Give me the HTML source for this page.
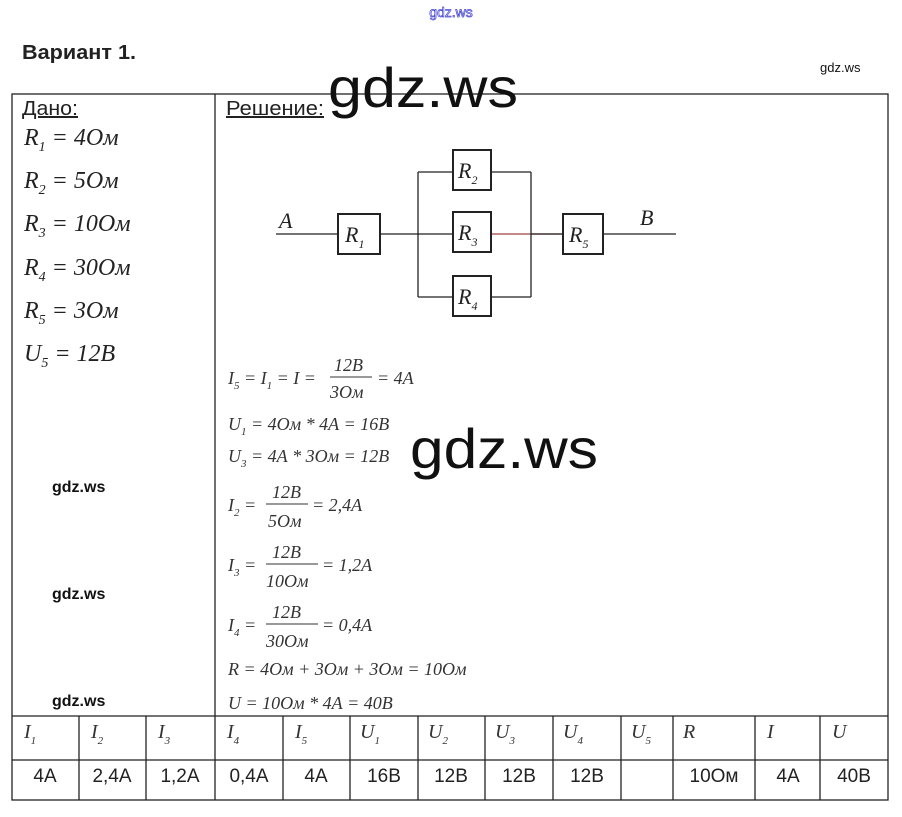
<!DOCTYPE html>
<html><head><meta charset="utf-8"><style>
body{margin:0;background:#fff;width:902px;height:817px;overflow:hidden;position:relative;font-family:"Liberation Sans",sans-serif}
svg{position:absolute;left:0;top:0}
.m{font-family:"Liberation Serif",serif;font-style:italic}
</style></head><body>
<svg width="902" height="817" viewBox="0 0 902 817">
<text x="451" y="17" text-anchor="middle" font-size="14" fill="#fff" stroke="#4040d0" stroke-width="0.7" font-family="Liberation Sans">gdz.ws</text>
<text x="22" y="59" font-size="20" font-weight="bold" fill="#222" textLength="114" lengthAdjust="spacingAndGlyphs">Вариант 1.</text>
<text x="820" y="72" font-size="13" fill="#111">gdz.ws</text>
<g stroke="#222" stroke-width="1.3" fill="none">
<rect x="12" y="94" width="876" height="706"/>
<line x1="215" y1="94" x2="215" y2="716"/>
<line x1="12" y1="716" x2="888" y2="716"/>
<line x1="12" y1="760" x2="888" y2="760"/>
<g>
<line x1="79" y1="716" x2="79" y2="800"/><line x1="146" y1="716" x2="146" y2="800"/>
<line x1="215" y1="716" x2="215" y2="800"/><line x1="283" y1="716" x2="283" y2="800"/>
<line x1="350" y1="716" x2="350" y2="800"/><line x1="418" y1="716" x2="418" y2="800"/>
<line x1="485" y1="716" x2="485" y2="800"/><line x1="553" y1="716" x2="553" y2="800"/>
<line x1="621" y1="716" x2="621" y2="800"/><line x1="673" y1="716" x2="673" y2="800"/>
<line x1="755" y1="716" x2="755" y2="800"/><line x1="820" y1="716" x2="820" y2="800"/>
</g>
<line x1="276" y1="234" x2="338" y2="234"/>
<line x1="380" y1="234" x2="453" y2="234"/>
<line x1="491" y1="234" x2="563" y2="234" stroke="#a04040"/>
<line x1="603" y1="234" x2="676" y2="234"/>
<line x1="418" y1="172" x2="418" y2="297"/>
<line x1="531" y1="172" x2="531" y2="297"/>
<line x1="418" y1="172" x2="453" y2="172"/><line x1="491" y1="172" x2="531" y2="172"/>
<line x1="418" y1="297" x2="453" y2="297"/><line x1="491" y1="297" x2="531" y2="297"/>
<line x1="531" y1="234" x2="563" y2="234"/>
<rect x="338" y="214" width="42" height="40" stroke-width="2"/>
<rect x="453" y="150" width="38" height="40" stroke-width="2"/>
<rect x="453" y="212" width="38" height="40" stroke-width="2"/>
<rect x="453" y="276" width="38" height="40" stroke-width="2"/>
<rect x="563" y="214" width="40" height="40" stroke-width="2"/>
</g>
<g font-family="Liberation Sans" font-size="20" fill="#222">
<text x="22" y="115" text-decoration="underline" textLength="56" lengthAdjust="spacingAndGlyphs">Дано:</text>
<text x="226" y="115" text-decoration="underline" textLength="98" lengthAdjust="spacingAndGlyphs">Решение:</text>
</g>
<text x="328" y="107" font-size="56" fill="#111" font-family="Liberation Sans" textLength="190" lengthAdjust="spacingAndGlyphs">gdz.ws</text>
<text x="410" y="468" font-size="56" fill="#111" font-family="Liberation Sans" textLength="188" lengthAdjust="spacingAndGlyphs">gdz.ws</text>
<g font-size="16" font-weight="bold" fill="#111"><text x="52" y="492">gdz.ws</text><text x="52" y="599">gdz.ws</text><text x="52" y="706">gdz.ws</text></g>
<g class="m" font-size="24" fill="#222">
<text x="24" y="145">R<tspan font-size="14" dy="6">1</tspan><tspan dy="-6"> = 4Ом</tspan></text>
<text x="24" y="188">R<tspan font-size="14" dy="6">2</tspan><tspan dy="-6"> = 5Ом</tspan></text>
<text x="24" y="231">R<tspan font-size="14" dy="6">3</tspan><tspan dy="-6"> = 10Ом</tspan></text>
<text x="24" y="275">R<tspan font-size="14" dy="6">4</tspan><tspan dy="-6"> = 30Ом</tspan></text>
<text x="24" y="318">R<tspan font-size="14" dy="6">5</tspan><tspan dy="-6"> = 3Ом</tspan></text>
<text x="24" y="361">U<tspan font-size="14" dy="6">5</tspan><tspan dy="-6"> = 12В</tspan></text>
</g>
<g class="m" font-size="22" fill="#222">
<text x="279" y="228">A</text><text x="640" y="225">B</text>
<text x="345" y="242">R<tspan font-size="12" dy="6">1</tspan></text>
<text x="458" y="178">R<tspan font-size="12" dy="6">2</tspan></text>
<text x="458" y="240">R<tspan font-size="12" dy="6">3</tspan></text>
<text x="458" y="304">R<tspan font-size="12" dy="6">4</tspan></text>
<text x="569" y="242">R<tspan font-size="12" dy="6">5</tspan></text>
</g>
<g class="m" font-size="18" fill="#333">
<text x="228" y="384">I<tspan font-size="11" dy="5">5</tspan><tspan dy="-5"> = I</tspan><tspan font-size="11" dy="5">1</tspan><tspan dy="-5"> = I =</tspan></text>
<text x="334" y="371">12В</text><line x1="330" y1="377" x2="372" y2="377" stroke="#333"/><text x="330" y="398">3Ом</text>
<text x="377" y="384">= 4А</text>
<text x="228" y="430">U<tspan font-size="11" dy="5">1</tspan><tspan dy="-5"> = 4Ом * 4А = 16В</tspan></text>
<text x="228" y="462">U<tspan font-size="11" dy="5">3</tspan><tspan dy="-5"> = 4А * 3Ом = 12В</tspan></text>
<text x="228" y="511">I<tspan font-size="11" dy="5">2</tspan><tspan dy="-5"> =</tspan></text>
<text x="272" y="498">12В</text><line x1="266" y1="504" x2="308" y2="504" stroke="#333"/><text x="268" y="527">5Ом</text><text x="312" y="511">= 2,4А</text>
<text x="228" y="571">I<tspan font-size="11" dy="5">3</tspan><tspan dy="-5"> =</tspan></text>
<text x="272" y="558">12В</text><line x1="266" y1="564" x2="318" y2="564" stroke="#333"/><text x="266" y="587">10Ом</text><text x="322" y="571">= 1,2А</text>
<text x="228" y="631">I<tspan font-size="11" dy="5">4</tspan><tspan dy="-5"> =</tspan></text>
<text x="272" y="618">12В</text><line x1="266" y1="624" x2="318" y2="624" stroke="#333"/><text x="266" y="647">30Ом</text><text x="322" y="631">= 0,4А</text>
<text x="228" y="675">R = 4Ом + 3Ом + 3Ом = 10Ом</text>
<text x="228" y="709">U = 10Ом * 4А = 40В</text>
</g>
<g class="m" font-size="20" fill="#333">
<text x="24" y="738">I<tspan font-size="11" dy="6">1</tspan></text>
<text x="91" y="738">I<tspan font-size="11" dy="6">2</tspan></text>
<text x="158" y="738">I<tspan font-size="11" dy="6">3</tspan></text>
<text x="227" y="738">I<tspan font-size="11" dy="6">4</tspan></text>
<text x="295" y="738">I<tspan font-size="11" dy="6">5</tspan></text>
<text x="360" y="738">U<tspan font-size="11" dy="6">1</tspan></text>
<text x="428" y="738">U<tspan font-size="11" dy="6">2</tspan></text>
<text x="495" y="738">U<tspan font-size="11" dy="6">3</tspan></text>
<text x="563" y="738">U<tspan font-size="11" dy="6">4</tspan></text>
<text x="631" y="738">U<tspan font-size="11" dy="6">5</tspan></text>
<text x="683" y="738">R</text><text x="767" y="738">I</text><text x="832" y="738">U</text>
</g>
<g font-size="19" fill="#222" text-anchor="middle">
<text x="45" y="782">4А</text><text x="112" y="782">2,4А</text><text x="180" y="782">1,2А</text>
<text x="249" y="782">0,4А</text><text x="316" y="782">4А</text><text x="384" y="782">16В</text>
<text x="451" y="782">12В</text><text x="519" y="782">12В</text><text x="587" y="782">12В</text>
<text x="714" y="782">10Ом</text><text x="788" y="782">4А</text><text x="854" y="782">40В</text>
</g>
</svg>
</body></html>
